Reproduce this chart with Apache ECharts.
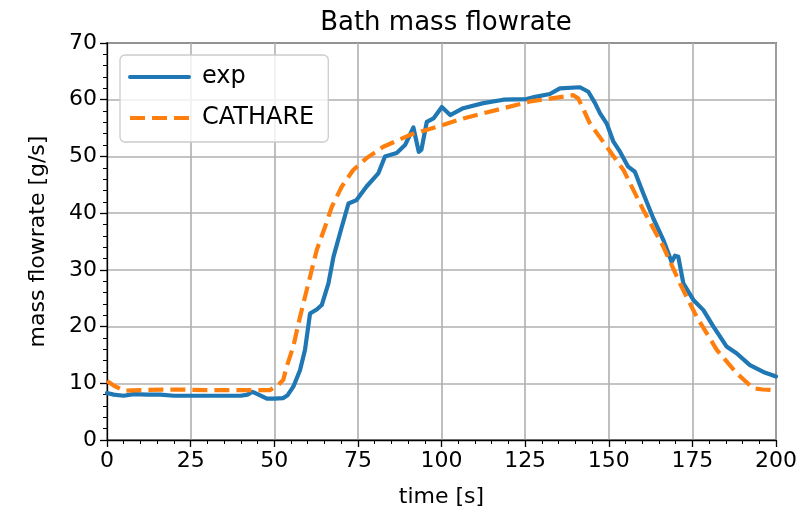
<!DOCTYPE html>
<html>
<head>
<meta charset="utf-8">
<script src="https://cdn.jsdelivr.net/npm/echarts@6/dist/echarts.min.js"></script>
<style>html,body{margin:0;padding:0;background:#fff}#c{width:803px;height:515px}</style>
</head>
<body>
<div id="c"></div>
<script>
const titleText = "Bath mass flowrate";
const xName = "time [s]";
const yName = "mass flowrate [g/s]";
const seriesNames = ["exp", "CATHARE"];

const expTime = [0,2,5,8,12,16,20,25,30,35,40,42,43.5,45,47.8,50,52.7,54,55.7,57.7,59.2,60.7,62.7,64.2,66.2,67.7,70.2,72.2,74.6,77.6,81.1,83.1,86.6,89.1,91.6,93.2,94,95.6,97.6,100.1,102.6,106.5,112.5,118.5,125.4,128,132.4,135.4,141.4,143.9,145.9,147.4,149.4,151.4,153.4,155.8,157.8,160.3,163.3,166.3,168.8,169.8,170.8,172.3,175.3,178.3,181.3,185.2,188.2,192.2,196.2,200];
const expFlow = [8.3,8.0,7.8,8.1,8.0,8.0,7.8,7.8,7.8,7.8,7.8,8.0,8.5,8.1,7.3,7.3,7.4,7.9,9.4,12.3,15.9,22.3,23.0,23.8,27.6,32.3,37.6,41.7,42.3,44.7,47.0,50.0,50.6,52.0,55.1,50.8,51.2,56.1,56.7,58.7,57.3,58.5,59.4,60.0,60.1,60.5,61.0,62.0,62.2,61.4,59.4,57.6,55.8,52.6,50.8,48.2,47.3,43.5,39.1,35.3,31.4,32.5,32.3,27.6,24.7,22.9,20.0,16.5,15.3,13.2,12.0,11.2];

const cathTime = [0,2,5,10,20,30,40,48.7,51.2,52.7,53.7,55.7,57.7,60.2,62.7,65.2,67.2,70.2,73.6,77.6,82.6,90.6,98.6,106.5,118.5,126.5,132.4,139.4,140.9,144.4,149.4,154.4,160.3,166.3,171.3,176.3,182.3,188.2,193.2,196,200];
const cathFlow = [10.4,9.6,8.7,8.8,8.9,8.8,8.8,8.8,9.7,10.6,12.9,16.5,21.7,27.6,33.5,37.6,41.1,44.7,47.6,49.7,51.7,53.8,55.2,56.7,58.5,59.7,60.2,60.8,60.2,55.8,51.7,47.6,40.6,34.1,27.6,21.7,15.9,11.8,9.1,8.9,8.8];

const FONT = "DejaVu Sans";
const zip = (a, b) => a.map((v, i) => [v, b[i]]);

const chart = echarts.init(document.getElementById('c'), null, {renderer: 'canvas'});
chart.setOption({
  animation: false,
  backgroundColor: '#fff',
  textStyle: {fontFamily: FONT, color: '#000'},
  title: {
    text: titleText, left: 441, top: 5, textAlign: 'center',
    textStyle: {fontFamily: FONT, fontSize: 26, fontWeight: 'normal', color: '#000'}
  },
  grid: {left: 107, right: 27, top: 43, bottom: 75, show: true, borderColor: '#000', borderWidth: 1.3, backgroundColor: 'transparent'},
  legend: {
    orient: 'vertical', left: 120, top: 55,
    padding: [10, 14, 12, 8],
    itemWidth: 59, itemHeight: 24, itemGap: 17,
    backgroundColor: 'rgba(255,255,255,0.8)', borderColor: '#cccccc', borderWidth: 1.3, borderRadius: 5,
    itemStyle: {opacity: 0, borderWidth: 0},
    lineStyle: {width: 4},
    textStyle: {fontFamily: FONT, fontSize: 24, color: '#000', padding: [0, 0, 0, 8]},
    data: seriesNames
  },
  xAxis: {
    type: 'value', min: 0, max: 200, interval: 25,
    name: xName, nameLocation: 'middle', nameGap: 46,
    nameTextStyle: {fontFamily: FONT, fontSize: 22, color: '#000'},
    axisLine: {show: true, onZero: false, lineStyle: {color: '#000', width: 1.3}},
    axisTick: {show: true, inside: false, length: 7, lineStyle: {color: '#000', width: 1.3}},
    minorTick: {show: true, splitNumber: 5, length: 4, lineStyle: {color: '#000', width: 1}},
    axisLabel: {fontFamily: FONT, fontSize: 22, color: '#000', margin: 10},
    splitLine: {show: true, lineStyle: {color: '#b0b0b0', width: 1.6}}
  },
  yAxis: {
    type: 'value', min: 0, max: 70, interval: 10,
    name: yName, nameLocation: 'middle', nameGap: 58,
    nameTextStyle: {fontFamily: FONT, fontSize: 22, color: '#000'},
    axisLine: {show: true, onZero: false, lineStyle: {color: '#000', width: 1.3}},
    axisTick: {show: true, inside: false, length: 7, lineStyle: {color: '#000', width: 1.3}},
    minorTick: {show: true, splitNumber: 5, length: 4, lineStyle: {color: '#000', width: 1}},
    axisLabel: {fontFamily: FONT, fontSize: 22, color: '#000', margin: 10},
    splitLine: {show: true, lineStyle: {color: '#b0b0b0', width: 1.6}}
  },
  series: [
    {
      name: seriesNames[0], type: 'line', data: zip(expTime, expFlow),
      showSymbol: false, symbol: 'none', smooth: false,
      itemStyle: {color: '#1f77b4'},
      lineStyle: {color: '#1f77b4', width: 4.2, cap: 'round', join: 'round'},
      z: 3
    },
    {
      name: seriesNames[1], type: 'line', data: zip(cathTime, cathFlow),
      showSymbol: false, symbol: 'none', smooth: false,
      itemStyle: {color: '#ff7f0e'},
      lineStyle: {color: '#ff7f0e', width: 4.2, type: [15, 7], join: 'round'},
      z: 4
    }
  ]
});
</script>
</body>
</html>
